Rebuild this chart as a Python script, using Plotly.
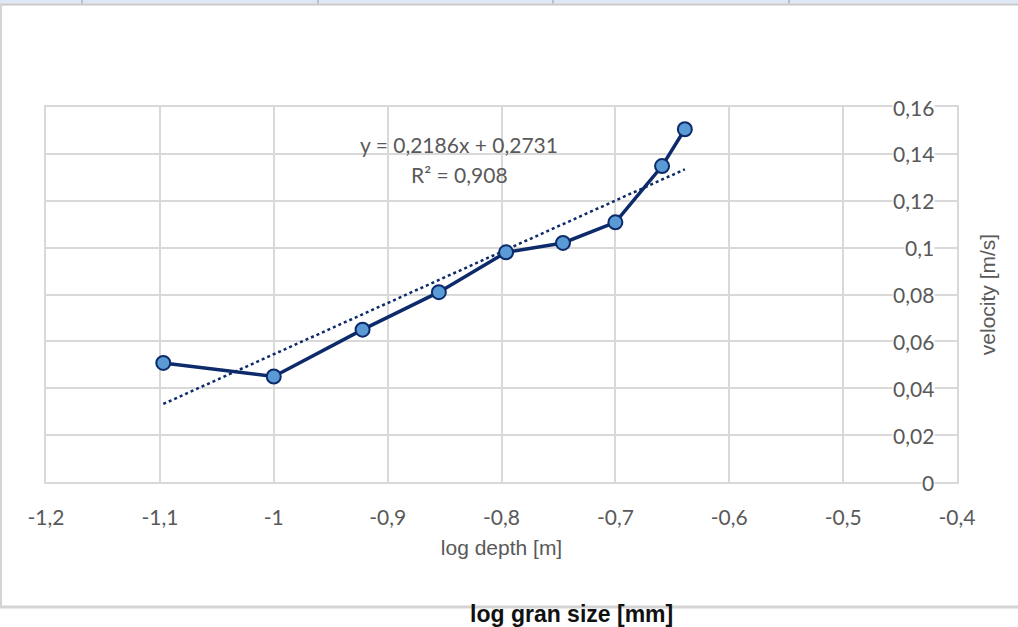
import plotly.graph_objects as go
import numpy as np

# ---- data ----
log_depth = [-1.097, -1.0, -0.922, -0.855, -0.796, -0.746, -0.700, -0.659, -0.639]
velocity = [0.0508, 0.0450, 0.0650, 0.0810, 0.0980, 0.1020, 0.1108, 0.1348, 0.1505]
trend_slope = 0.2186
trend_intercept = 0.2731
x_ticks = [-1.2, -1.1, -1.0, -0.9, -0.8, -0.7, -0.6, -0.5, -0.4]
x_tick_text = ["-1,2", "-1,1", "-1", "-0,9", "-0,8", "-0,7", "-0,6", "-0,5", "-0,4"]
y_ticks = [0, 0.02, 0.04, 0.06, 0.08, 0.10, 0.12, 0.14, 0.16]
y_tick_text = ["0", "0,02", "0,04", "0,06", "0,08", "0,1", "0,12", "0,14", "0,16"]
equation_text = "y = 0,2186x + 0,2731"
r2_text = "R² = 0,908"

W, H = 1018, 627
L, R, T, B = 46, 957, 107, 482

def px(xp):
    return (xp - L) / (R - L)

def py(yp):
    return (B - yp) / (B - T)

navy = "#0d2a6b"
gray_txt = "#595959"
grid = "#d9d9d9"
tick_font = dict(family="Lato, Open Sans, sans-serif", size=21, color=gray_txt)
title_font = dict(family="Liberation Sans, Arial", size=21, color=gray_txt)

trend_x = [min(log_depth), max(log_depth)]
trend_y = [trend_slope * v + trend_intercept for v in trend_x]

fig = go.Figure()
fig.add_trace(go.Scatter(x=trend_x, y=trend_y, mode="lines",
                         line=dict(color=navy, width=2.5, dash="dot"),
                         hoverinfo="skip", showlegend=False))
fig.add_trace(go.Scatter(x=log_depth, y=velocity, mode="lines+markers",
                         line=dict(color=navy, width=3.5),
                         marker=dict(size=14, color="#5b9bd5",
                                     line=dict(color=navy, width=2)),
                         showlegend=False))

fig.update_xaxes(range=[-1.2, -0.4], tickvals=x_ticks, ticktext=x_tick_text,
                 showgrid=True, gridcolor=grid, gridwidth=2,
                 showline=True, linecolor=grid, linewidth=2, mirror=True,
                 ticks="outside", ticklen=16, tickcolor="rgba(0,0,0,0)",
                 tickfont=tick_font, zeroline=False,
                 title=dict(text="log depth [m]", standoff=12, font=title_font))
fig.update_yaxes(range=[0, 0.16], tickvals=y_ticks, showticklabels=False,
                 side="right", showgrid=True, gridcolor=grid, gridwidth=2,
                 showline=True, linecolor=grid, linewidth=2, mirror=True,
                 zeroline=False,
                 title=dict(text="velocity [m/s]", standoff=22, font=title_font))

annotations = []
for v, t in zip(y_ticks, y_tick_text):
    annotations.append(dict(x=1, xref="paper", y=v, yref="y", text=t,
                            xanchor="right", yanchor="middle", xshift=-22,
                            showarrow=False, bgcolor="white", borderpad=0,
                            font=tick_font))
annotations.append(dict(x=-0.837, y=0.1442, xref="x", yref="y", text=equation_text,
                        showarrow=False, font=tick_font, xanchor="center", yanchor="middle"))
annotations.append(dict(x=-0.837, y=0.1310, xref="x", yref="y", text=r2_text,
                        showarrow=False, font=tick_font, xanchor="center", yanchor="middle"))
annotations.append(dict(x=px(571), y=py(614), xref="paper", yref="paper",
                        text="<b>log gran size [mm]</b>", showarrow=False,
                        font=dict(family="Liberation Sans Narrow, Liberation Sans, Arial", size=23, color="#111111"),
                        xanchor="center", yanchor="middle"))

shapes = [
    # top strip
    dict(type="rect", xref="paper", yref="paper", x0=px(0), x1=px(W), y0=py(3.5), y1=py(0),
         fillcolor="#dde8f5", line=dict(width=0), layer="above"),
    dict(type="line", xref="paper", yref="paper", x0=px(0), x1=px(W), y0=py(4.5), y1=py(4.5),
         line=dict(color="#c8c8c8", width=2)),
    # left border
    dict(type="line", xref="paper", yref="paper", x0=px(1), x1=px(1), y0=py(4), y1=py(607),
         line=dict(color="#d4d4d4", width=2)),
    # bottom border
    dict(type="line", xref="paper", yref="paper", x0=px(0), x1=px(W), y0=py(607), y1=py(607),
         line=dict(color="#d4d4d4", width=3)),
]
for xm in [82, 318, 553, 789]:
    shapes.append(dict(type="line", xref="paper", yref="paper", x0=px(xm), x1=px(xm),
                       y0=py(0), y1=py(3.5), line=dict(color="#9a9a9a", width=1)))

fig.update_layout(width=W, height=H, margin=dict(l=L, r=W - R, t=T, b=H - B),
                  paper_bgcolor="white", plot_bgcolor="white",
                  separators=", ", annotations=annotations, shapes=shapes,
                  showlegend=False)

fig.write_html("out.html")
